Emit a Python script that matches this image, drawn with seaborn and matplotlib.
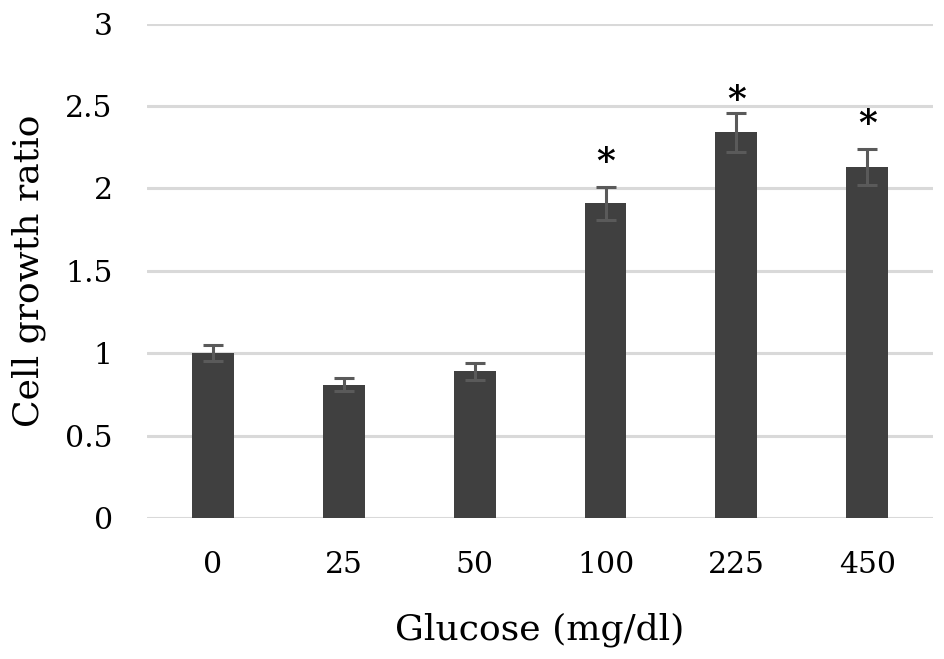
import numpy as np
import pandas as pd
import matplotlib
matplotlib.use("Agg")
import matplotlib.pyplot as plt
import seaborn as sns

glucose = ["0", "25", "50", "100", "225", "450"]
ratio = [1.00, 0.81, 0.89, 1.91, 2.34, 2.13]
err = [0.05, 0.04, 0.05, 0.10, 0.12, 0.11]
star_y = [None, None, None, 2.16, 2.54, 2.39]

sns.set_theme(style="white")
plt.rcParams['font.family'] = ['DejaVu Serif']
plt.rcParams['text.color'] = 'black'
plt.rcParams['axes.labelcolor'] = 'black'
plt.rcParams['xtick.color'] = 'black'
plt.rcParams['ytick.color'] = 'black'

df = pd.DataFrame({"Glucose": glucose, "Ratio": ratio})

fig = plt.figure(figsize=(9.45, 6.59), dpi=100)
ax = fig.add_axes([0.156, 0.214, 0.831, 0.750])

ax.yaxis.grid(True, color="#d9d9d9", linewidth=2.2)
ax.set_axisbelow(True)

sns.barplot(data=df, x="Glucose", y="Ratio", color="#404040", saturation=1,
            width=0.32, errorbar=None, linewidth=0, ax=ax)
ax.errorbar(np.arange(len(glucose)), ratio, yerr=err, fmt="none",
            ecolor="#5a5a5a", elinewidth=2.2, capsize=7, capthick=2.2)

# significance marks
for i, y in enumerate(star_y):
    if y is not None:
        ax.text(i, y, "*", ha="center", va="center", fontsize=26,
                fontweight="bold", color="black")

ax.set_ylim(0, 3)
ax.set_xlim(-0.5, 5.5)
ax.set_yticks([0, 0.5, 1, 1.5, 2, 2.5, 3])
ax.set_yticklabels(["0", "0.5", "1", "1.5", "2", "2.5", "3"])
ax.tick_params(axis="both", labelsize=21.5, length=0)
ax.tick_params(axis="y", pad=25)
ax.tick_params(axis="x", pad=24)
ax.set_xlabel("Glucose (mg/dl)", fontsize=26, labelpad=24)
ax.set_ylabel("Cell growth ratio", fontsize=26, labelpad=14)
for s in ax.spines.values():
    s.set_visible(False)

fig.savefig("out.png", dpi=100)
